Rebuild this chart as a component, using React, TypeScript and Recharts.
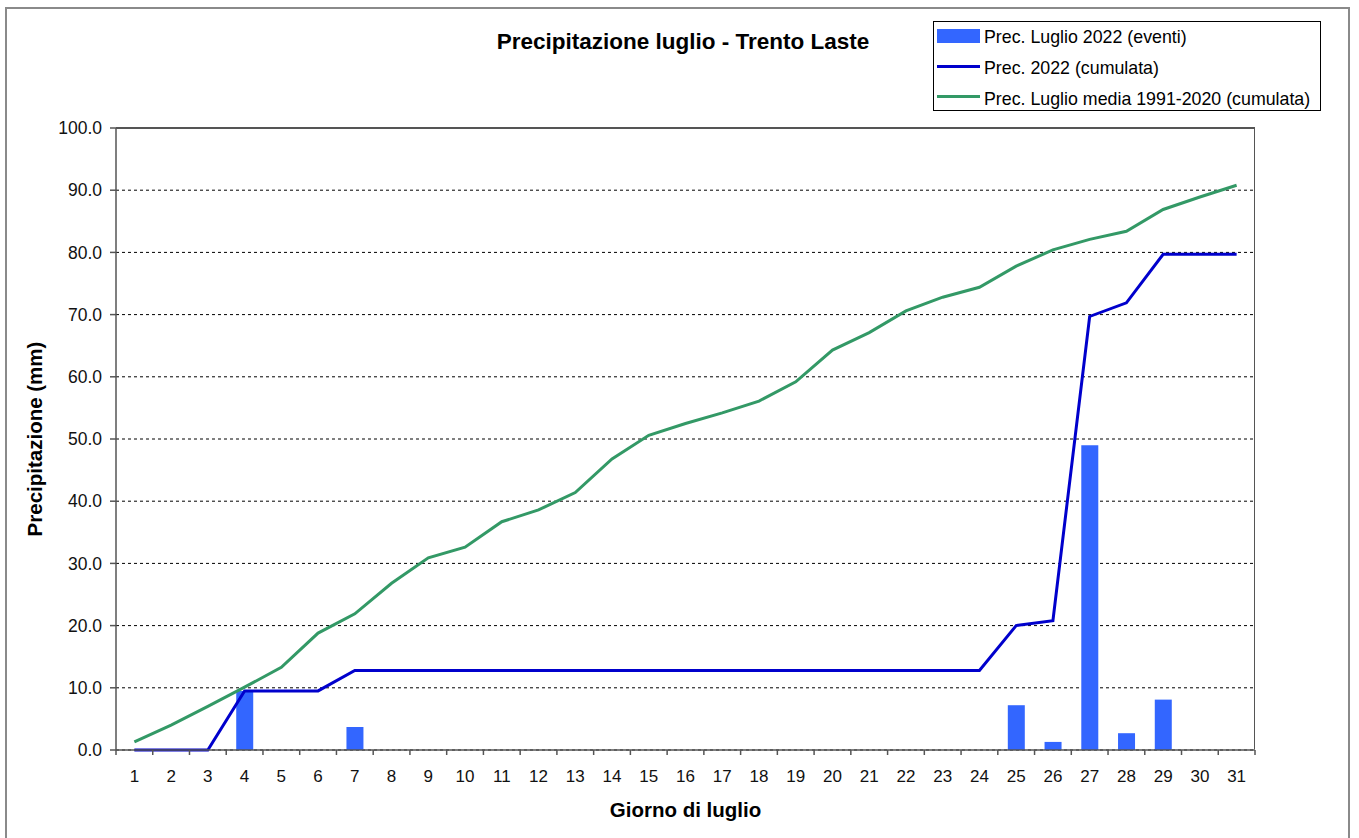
import React from 'react';
import { ComposedChart, Bar, Line, XAxis, YAxis, CartesianGrid, Legend } from 'recharts';

const days = ['1', '2', '3', '4', '5', '6', '7', '8', '9', '10', '11', '12', '13', '14', '15', '16', '17', '18', '19', '20', '21', '22', '23', '24', '25', '26', '27', '28', '29', '30', '31'];

// daily precipitation events, July 2022 (mm)
const eventi2022 = [0, 0, 0, 9.5, 0, 0, 3.7, 0, 0, 0, 0, 0, 0, 0, 0, 0, 0, 0, 0, 0, 0, 0, 0, 0, 7.2, 1.3, 49.0, 2.7, 8.1, 0, 0];

// cumulated 2022
const cumulata2022 = [0, 0, 0, 9.5, 9.5, 9.5, 12.8, 12.8, 12.8, 12.8, 12.8, 12.8, 12.8, 12.8, 12.8, 12.8, 12.8, 12.8, 12.8, 12.8, 12.8, 12.8, 12.8, 12.8, 20.0, 20.8, 69.7, 71.9, 79.7, 79.7, 79.7];

// cumulated average 1991-2020
const media9120 = [1.3, 4.0, 7.0, 10.1, 13.3, 18.8, 21.9, 26.8, 30.9, 32.6, 36.7, 38.6, 41.4, 46.8, 50.6, 52.5, 54.2, 56.1, 59.2, 64.3, 67.1, 70.6, 72.8, 74.4, 77.8, 80.4, 82.1, 83.4, 86.9, 88.9, 90.8];

const yTicks = [0, 10, 20, 30, 40, 50, 60, 70, 80, 90, 100];

const data = days.map((d, i) => ({
  day: d,
  eventi: eventi2022[i],
  cumulata: cumulata2022[i],
  media: media9120[i],
}));

const W = 1359;
const H = 838;
const MARGIN = { top: 128, right: 104, left: 16, bottom: 13 };
const Y_AXIS_W = 100;
const X_AXIS_H = 75;
const PLOT_X = MARGIN.left + Y_AXIS_W;
const PLOT_W = W - PLOT_X - MARGIN.right;
const PLOT_H = H - MARGIN.top - MARGIN.bottom - X_AXIS_H;
const BAND = PLOT_W / days.length;

const FONT = '"Liberation Sans", Arial, sans-serif';
const AXIS_GREY = '#555';

const BAR_COLOR = '#3366FF';
const BLUE = '#0000CC';
const GREEN = '#339966';

// excel style: tick marks between categories, label in the middle
const DayTick = (props: any) => {
  const { x, y, payload, index } = props;
  const half = BAND / 2;
  return (
    <g>
      <line x1={x - half} x2={x - half} y1={y} y2={y + 5} stroke={AXIS_GREY} strokeWidth={1.5} />
      {index === days.length - 1 && (
        <line x1={x + half} x2={x + half} y1={y} y2={y + 5} stroke={AXIS_GREY} strokeWidth={1.5} />
      )}
      <text x={x} y={y + 32} textAnchor="middle" fontSize={17} fill="#111">
        {payload.value}
      </text>
    </g>
  );
};

const LegendBox = () => (
  <svg width={389} height={91} style={{ display: 'block', fontFamily: FONT }}>
    <rect x={0.5} y={0.5} width={387} height={89} fill="#fff" stroke="#000" strokeWidth={1} />
    <rect x={4} y={8} width={43} height={14} fill={BAR_COLOR} />
    <text x={51} y={21.5} fontSize={17.8} fill="#000">Prec. Luglio 2022 (eventi)</text>
    <line x1={4} x2={47} y1={45.5} y2={45.5} stroke={BLUE} strokeWidth={3} />
    <text x={51} y={52.5} fontSize={17.8} fill="#000">Prec. 2022 (cumulata)</text>
    <line x1={4} x2={47} y1={75.5} y2={75.5} stroke={GREEN} strokeWidth={3} />
    <text x={51} y={83.5} fontSize={17.8} fill="#000">Prec. Luglio media 1991-2020 (cumulata)</text>
  </svg>
);

export default function App() {
  return (
    <div style={{ position: 'absolute', left: 0, top: 0, width: W, height: H, background: '#fff', fontFamily: FONT, overflow: 'hidden' }}>
      <div
        style={{
          position: 'absolute',
          left: 5,
          top: 7,
          width: 1345,
          height: 850,
          border: '2px solid #8a8a8a',
          boxSizing: 'border-box',
        }}
      />
      <div
        style={{
          position: 'absolute',
          left: 383,
          top: 31,
          width: 600,
          textAlign: 'center',
          fontSize: 22.5,
          lineHeight: 1,
          fontWeight: 'bold',
          color: '#000',
          zIndex: 2,
        }}
      >
        Precipitazione luglio - Trento Laste
      </div>
      <ComposedChart width={W} height={H} data={data} margin={MARGIN} barGap={0}>
        <CartesianGrid vertical={false} stroke="#000" strokeDasharray="3 3" />
        <XAxis
          dataKey="day"
          height={X_AXIS_H}
          tick={<DayTick />}
          tickLine={false}
          tickSize={0}
          tickMargin={0}
          interval={0}
          axisLine={{ stroke: AXIS_GREY, strokeWidth: 1.5 }}
          label={{
            value: 'Giorno di luglio',
            position: 'insideBottom',
            offset: 8,
            style: { fontWeight: 'bold', fontSize: 20.5, fill: '#000' },
          }}
        />
        <YAxis
          width={Y_AXIS_W}
          domain={[0, 100]}
          ticks={yTicks}
          interval={0}
          tickFormatter={(v: number) => v.toFixed(1)}
          tick={{ fontSize: 17.5, fill: '#111' }}
          tickSize={6}
          tickMargin={8}
          tickLine={{ stroke: AXIS_GREY, strokeWidth: 1.5 }}
          axisLine={{ stroke: AXIS_GREY, strokeWidth: 1.5 }}
          label={{
            value: 'Precipitazione (mm)',
            angle: -90,
            position: 'insideLeft',
            offset: 19,
            style: { textAnchor: 'middle', fontWeight: 'bold', fontSize: 20.5, fill: '#000' },
          }}
        />
        <Legend
          layout="vertical"
          align="center"
          verticalAlign="middle"
          content={() => <LegendBox />}
          wrapperStyle={{ left: 933, top: 21, width: 389, height: 91 }}
        />
        <Bar dataKey="eventi" fill={BAR_COLOR} barSize={17} isAnimationActive={false} />
        <Line
          type="linear"
          dataKey="cumulata"
          stroke={BLUE}
          strokeWidth={3}
          dot={false}
          activeDot={false}
          isAnimationActive={false}
        />
        <Line
          type="linear"
          dataKey="media"
          stroke={GREEN}
          strokeWidth={3}
          dot={false}
          activeDot={false}
          isAnimationActive={false}
        />
      </ComposedChart>
      {/* top and right edges of the plot frame */}
      <div
        style={{
          position: 'absolute',
          left: PLOT_X,
          top: MARGIN.top - 1,
          width: PLOT_W,
          height: PLOT_H,
          borderTop: `2px solid ${AXIS_GREY}`,
          borderRight: `1.5px solid ${AXIS_GREY}`,
          boxSizing: 'border-box',
          pointerEvents: 'none',
          zIndex: 1,
        }}
      />
    </div>
  );
}
